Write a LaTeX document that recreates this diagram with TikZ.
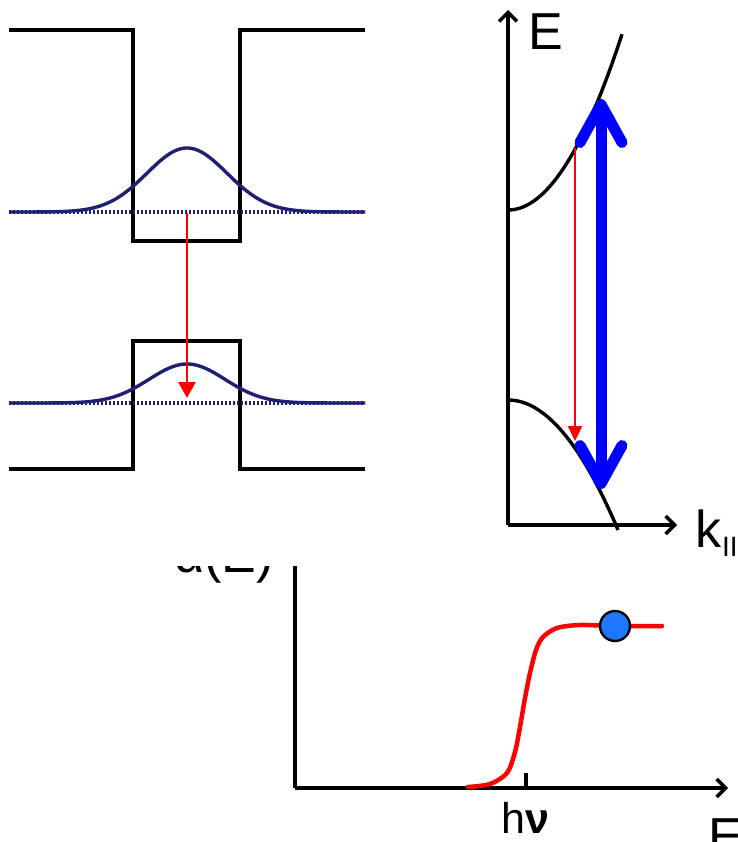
\documentclass[tikz,border=0pt]{standalone}
\usepackage{fontspec}
\setmainfont{Liberation Sans}
\usetikzlibrary{positioning,arrows.meta}
\definecolor{wfn}{HTML}{1F1F73}
\definecolor{trans}{HTML}{FF0000}
\definecolor{pump}{HTML}{0000FF}
\definecolor{dotc}{HTML}{1E78FF}
\tikzset{
  axis/.style={line width=3.4pt, draw=black, -{Straight Barb[length=9pt,width=18pt]}},
  well/.style={line width=3.8pt, draw=black},
  wave/.style={line width=3.4pt, draw=wfn},
  base/.style={line width=3.2pt, draw=wfn, dash pattern=on 2pt off 2pt},
  band/.style={line width=3.4pt, draw=black},
  emis/.style={line width=2.8pt, draw=trans, -{Triangle[length=16pt,width=17pt]}},
  emis2/.style={line width=2.4pt, draw=trans, -{Triangle[length=15pt,width=14pt]}},
  pumpar/.style={line width=11pt, draw=pump, {Straight Barb[round,length=38pt,width=42pt]}-{Straight Barb[round,length=38pt,width=42pt]}},
  absc/.style={line width=4.5pt, draw=trans, line cap=round},
  lbl/.style={font=\fontsize{52}{60}\selectfont, inner sep=0pt},
}
\begin{document}
\begin{tikzpicture}[x=1pt,y=-1pt]
  \useasboundingbox (0,0) rectangle (737,842);

  % quantum well, upper level
  \draw[well] (9,30) -- (133,30) -- (133,241) -- (240,241) -- (240,30) -- (365,30);
  \draw[base] (9,212) -- (365,212);
  \draw[wave] plot[domain=9:365, samples=140] (\x, {212-64*exp(-0.5*((\x-187)/40)^2)});

  % lower level
  \draw[well] (9,469) -- (133,469) -- (133,341) -- (240,341) -- (240,469) -- (365,469);
  \draw[base] (9,403) -- (365,403);
  \draw[wave] plot[domain=9:365, samples=140] (\x, {403-39*exp(-0.5*((\x-187)/38)^2)});

  \coordinate (up) at (187,213);
  \coordinate (dn) at (187,398);
  \draw[emis] (up) -- (dn);

  % dispersion
  \coordinate (o) at (508,525);
  \coordinate (etop) at (508,10);
  \coordinate (kend) at (677,525);
  \draw[axis] (o) -- (etop);
  \draw[axis] (o) -- (kend);
  \node[lbl, anchor=base west] (lblE) at (528,50) {E};
  \node[lbl, anchor=base west] (lblk) at (695,547) {k\hspace{1pt}{\fontsize{28}{28}\selectfont\raisebox{-9pt}{II}}};

  \draw[band] plot[domain=0:114, samples=60] ({508+\x}, {210-0.01354*\x*\x});
  \draw[band] plot[domain=0:110, samples=60] ({508+\x}, {400+0.01074*\x*\x});

  \coordinate (rt) at (575,148);
  \coordinate (rb) at (575,441);
  \draw[emis2] (rt) -- (rb);
  \coordinate (bt) at (601,99);
  \coordinate (bb) at (601,489);
  \draw[pumpar] (bt) -- (bb);

  % absorption
  \coordinate (ao) at (295,788);
  \coordinate (atop) at (295,566);
  \coordinate (aend) at (728,788);
  \draw[band] (ao) -- (atop);
  \draw[axis] (ao) -- (aend);
  \coordinate (tk) at (526,788);
  \draw[line width=3.2pt] (tk) -- ++(0,-15);
  \node[lbl, font=\fontsize{43}{50}\selectfont, anchor=base] (lblhv) at (525,833) {h\textbf{ν}};
  \node[lbl, anchor=base west] (lblEb) at (708,854) {E};
  \begin{scope}
    \clip (150,566) rectangle (292,600);
    \node[lbl, anchor=base east] (lblalpha) at (274,572) {α(E)};
  \end{scope}

  \draw[absc] plot[smooth] coordinates {(468,787) (490,784) (507,773) (515,752) (520,727) (525,698) (530,673) (536,650) (543,637) (557,628) (580,625) (615,626) (662,626)};
  \node[circle, draw=black, line width=2.4pt, fill=dotc, minimum size=30pt, inner sep=0pt] (pt) at (615,626) {};
\end{tikzpicture}
\end{document}
